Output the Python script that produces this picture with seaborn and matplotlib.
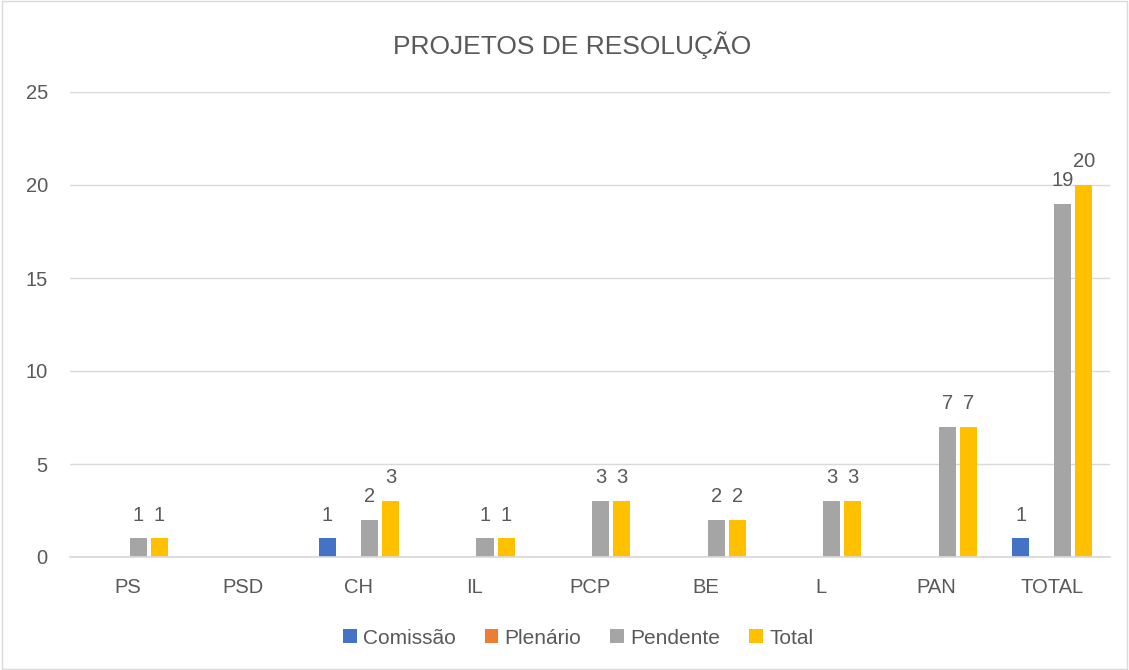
import matplotlib

matplotlib.use("Agg")

import matplotlib.pyplot as plt
import pandas as pd
import seaborn as sns
from matplotlib.patches import Rectangle

categories = ["PS", "PSD", "CH", "IL", "PCP", "BE", "L", "PAN", "TOTAL"]
series = ["Comissão", "Plenário", "Pendente", "Total"]
comissao = [0, 0, 1, 0, 0, 0, 0, 0, 1]
plenario = [0, 0, 0, 0, 0, 0, 0, 0, 0]
pendente = [1, 0, 2, 1, 3, 2, 3, 7, 19]
total = [1, 0, 3, 1, 3, 2, 3, 7, 20]
colors = ["#4472C4", "#ED7D31", "#A5A5A5", "#FFC000"]
yticks = [0, 5, 10, 15, 20, 25]

TEXT = "#595959"
GRID = "#D9D9D9"

rows = []
for name, values in zip(series, [comissao, plenario, pendente, total]):
    for cat, v in zip(categories, values):
        rows.append({"partido": cat, "serie": name, "valor": v})
df = pd.DataFrame(rows)

sns.set_theme(style="white")
plt.rcParams["font.family"] = ["Liberation Sans", "DejaVu Sans"]

fig = plt.figure(figsize=(11.29, 6.70), dpi=100)
ax = fig.add_axes([70 / 1129, 1 - 557 / 670, 1040 / 1129, 465 / 670])

sns.barplot(
    data=df, x="partido", y="valor", hue="serie",
    order=categories, hue_order=series, palette=colors,
    width=0.73, gap=0.19, saturation=1, errorbar=None,
    linewidth=0, ax=ax,
)

# value labels only on non-empty bars, as in the source chart
for container in ax.containers:
    labels = [f"{b.get_height():.0f}" if b.get_height() > 0 else "" for b in container]
    ax.bar_label(container, labels=labels, padding=10, fontsize=14.5, color=TEXT)

ax.set_ylim(0, 25)
ax.set_xlim(-0.5, len(categories) - 0.5)
ax.set_yticks(yticks)
ax.set_xlabel("")
ax.set_ylabel("")
ax.yaxis.grid(True, color=GRID, linewidth=1)
ax.set_axisbelow(True)
for side in ("top", "right", "left"):
    ax.spines[side].set_visible(False)
ax.spines["bottom"].set_color(GRID)
ax.tick_params(axis="y", length=0, pad=16, labelsize=14.5, labelcolor=TEXT)
ax.tick_params(axis="x", length=0, pad=15, labelsize=14.5, labelcolor=TEXT)

handles, labels = ax.get_legend_handles_labels()
ax.get_legend().remove()
fig.legend(
    handles, labels, loc="center", bbox_to_anchor=(0.512, 1 - 638 / 670),
    ncol=4, frameon=False, fontsize=15, labelcolor=TEXT,
    handlelength=0.65, handleheight=0.65, handletextpad=0.3, columnspacing=1.4,
)

fig.text(0.507, 1 - 45 / 670, "PROJETOS DE RESOLUÇÃO", ha="center", va="center",
         fontsize=19, color=TEXT)

fig.patches.append(Rectangle((0.002, 0.002), 0.996, 0.996, transform=fig.transFigure,
                             fill=False, edgecolor=GRID, linewidth=1))

fig.savefig("out.png", dpi=100)
